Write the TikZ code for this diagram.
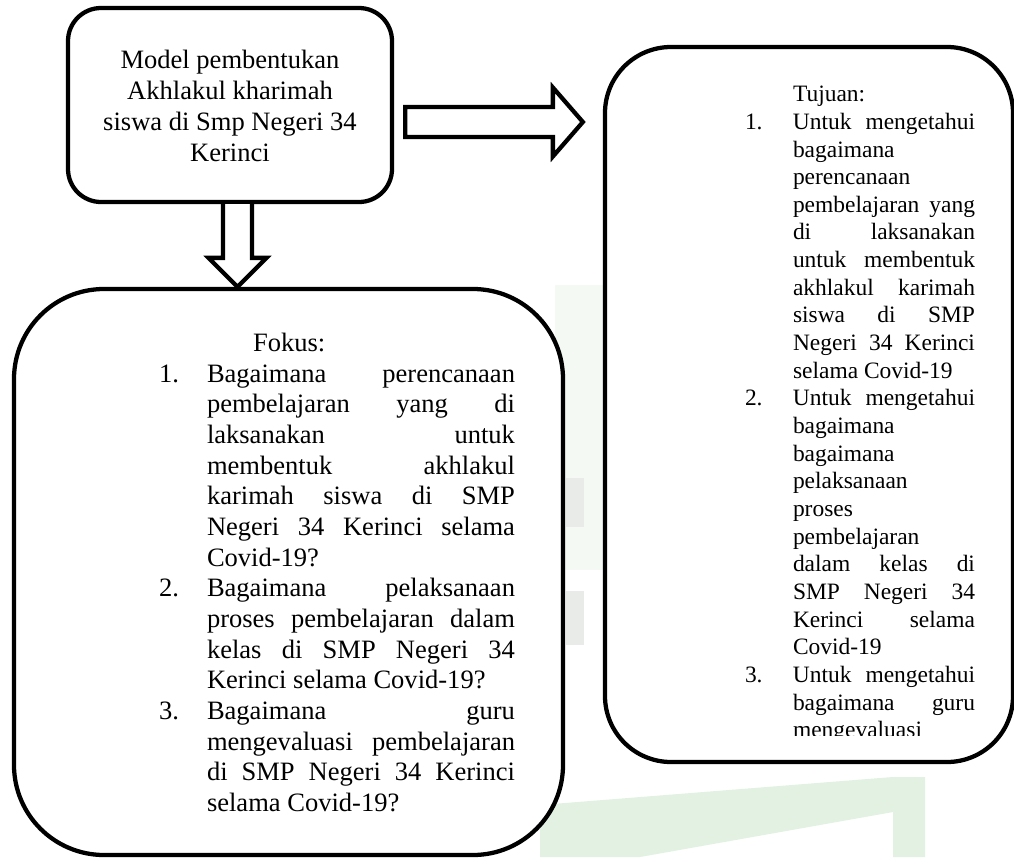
\documentclass[tikz,border=0pt]{standalone}
\usepackage{fontspec}
\setmainfont{Liberation Serif}
\usetikzlibrary{calc}
\definecolor{wmgreen}{RGB}{226,241,226}
\definecolor{wmpale}{RGB}{244,249,244}
\definecolor{wmgrey}{RGB}{233,235,233}
\newdimen\fw \fw=231pt
\newdimen\tw \tw=136.5pt
\newcommand\jf[1]{\hbox to \fw{#1}}
\newcommand\jt[1]{\hbox to \tw{#1}}
\newcommand\numl[1]{\llap{\hbox to 36pt{#1\hfil}}}
\begin{document}
\begin{tikzpicture}[x=0.75pt,y=-0.75pt,
  box/.style={draw, line width=3.2pt, fill=white, inner sep=0pt, rounded corners=#1},
  blk/.style={draw, line width=3.2pt, fill=white, line join=miter},
  txt/.style={inner sep=0pt, outer sep=0pt}]
\useasboundingbox (0,0) rectangle (1014,857);
\fill[white] (0,0) rectangle (1014,857);
% faint watermark
\fill[wmpale] (555,285) rectangle (610,570);
\fill[wmgrey] (566,478) rectangle (584,527);
\fill[wmgrey] (566,591) rectangle (584,645);
\fill[wmgreen] (540,857) -- (540,805) -- (893,777) -- (925,777) -- (925,857) -- (893,857) -- (893,812) -- (640,857) -- cycle;
% boxes
\node[box=24.75pt, minimum width=243pt, minimum height=145.5pt] (model) at (230,105) {};
\node[box=67.5pt, minimum width=411.75pt, minimum height=424.5pt] (fokus) at (288.5,572) {};
\node[box=49.5pt, minimum width=306pt, minimum height=536.25pt] (tujuan) at (809,404.5) {};
% down arrow
\coordinate (dA) at ($(model.south)+(7.5,0)$);
\coordinate (dB) at (dA |- fokus.north);
\draw[blk] ($(dA)+(-14.5,0)$) -- ($(dB)+(-14.5,-29)$) -- ($(dB)+(-29,-29)$) -- (dB)
  -- ($(dB)+(29,-29)$) -- ($(dB)+(14.5,-29)$) -- ($(dA)+(14.5,0)$);
% right arrow
\coordinate (rA) at ($(model.east)+(11,17)$);
\coordinate (rB) at ($(rA -| tujuan.west)+(-20,0)$);
\draw[blk] ($(rA)+(0,-15)$) -- ($(rB)+(-30,-15)$) -- ($(rB)+(-30,-34.5)$) -- (rB)
  -- ($(rB)+(-30,34.5)$) -- ($(rB)+(-30,15)$) -- ($(rA)+(0,15)$) -- cycle;
% texts
\node[txt, anchor=base] (modeltext) at (230,68) {\fontsize{19.9pt}{23.25pt}\selectfont\vtop{\baselineskip=23.25pt\lineskiplimit=-\maxdimen
 \hbox to 220pt{\hfil Model pembentukan\hfil}
 \hbox to 220pt{\hfil Akhlakul kharimah\hfil}
 \hbox to 220pt{\hfil siswa di Smp Negeri 34\hfil}
 \hbox to 220pt{\hfil Kerinci\hfil}}};
\node[txt, anchor=base west] (fokustext) at (207,351.5) {\fontsize{19.9pt}{23pt}\selectfont\vtop{\baselineskip=23pt\lineskiplimit=-\maxdimen
 \hbox{\hskip34.5pt Fokus:}
 \jf{\numl{1.}Bagaimana perencanaan}
 \jf{pembelajaran yang di}
 \jf{laksanakan untuk}
 \jf{membentuk akhlakul}
 \jf{karimah siswa di SMP}
 \jf{Negeri 34 Kerinci selama}
 \hbox{Covid-19?}
 \jf{\numl{2.}Bagaimana pelaksanaan}
 \jf{proses pembelajaran dalam}
 \jf{kelas di SMP Negeri 34}
 \hbox{Kerinci selama Covid-19?}
 \jf{\numl{3.}Bagaimana guru}
 \jf{mengevaluasi pembelajaran}
 \jf{di SMP Negeri 34 Kerinci}
 \hbox{selama Covid-19?}}};
\begin{scope}
\clip (600,40) rectangle (1014,735);
\node[txt, anchor=base west] (tujuantext) at (793,101.7) {\fontsize{17.6pt}{20.74pt}\selectfont\vtop{\baselineskip=20.74pt\lineskiplimit=-\maxdimen
 \hbox{Tujuan:}
 \jt{\numl{1.}Untuk mengetahui}
 \hbox{bagaimana}
 \hbox{perencanaan}
 \jt{pembelajaran yang}
 \jt{di laksanakan}
 \jt{untuk membentuk}
 \jt{akhlakul karimah}
 \jt{siswa di SMP}
 \jt{Negeri 34 Kerinci}
 \hbox{selama Covid-19}
 \jt{\numl{2.}Untuk mengetahui}
 \hbox{bagaimana}
 \hbox{bagaimana}
 \hbox{pelaksanaan}
 \hbox{proses}
 \hbox{pembelajaran}
 \jt{dalam kelas di}
 \jt{SMP Negeri 34}
 \jt{Kerinci selama}
 \hbox{Covid-19}
 \jt{\numl{3.}Untuk mengetahui}
 \jt{bagaimana guru}
 \hbox{mengevaluasi}}};
\end{scope}
\end{tikzpicture}
\end{document}
